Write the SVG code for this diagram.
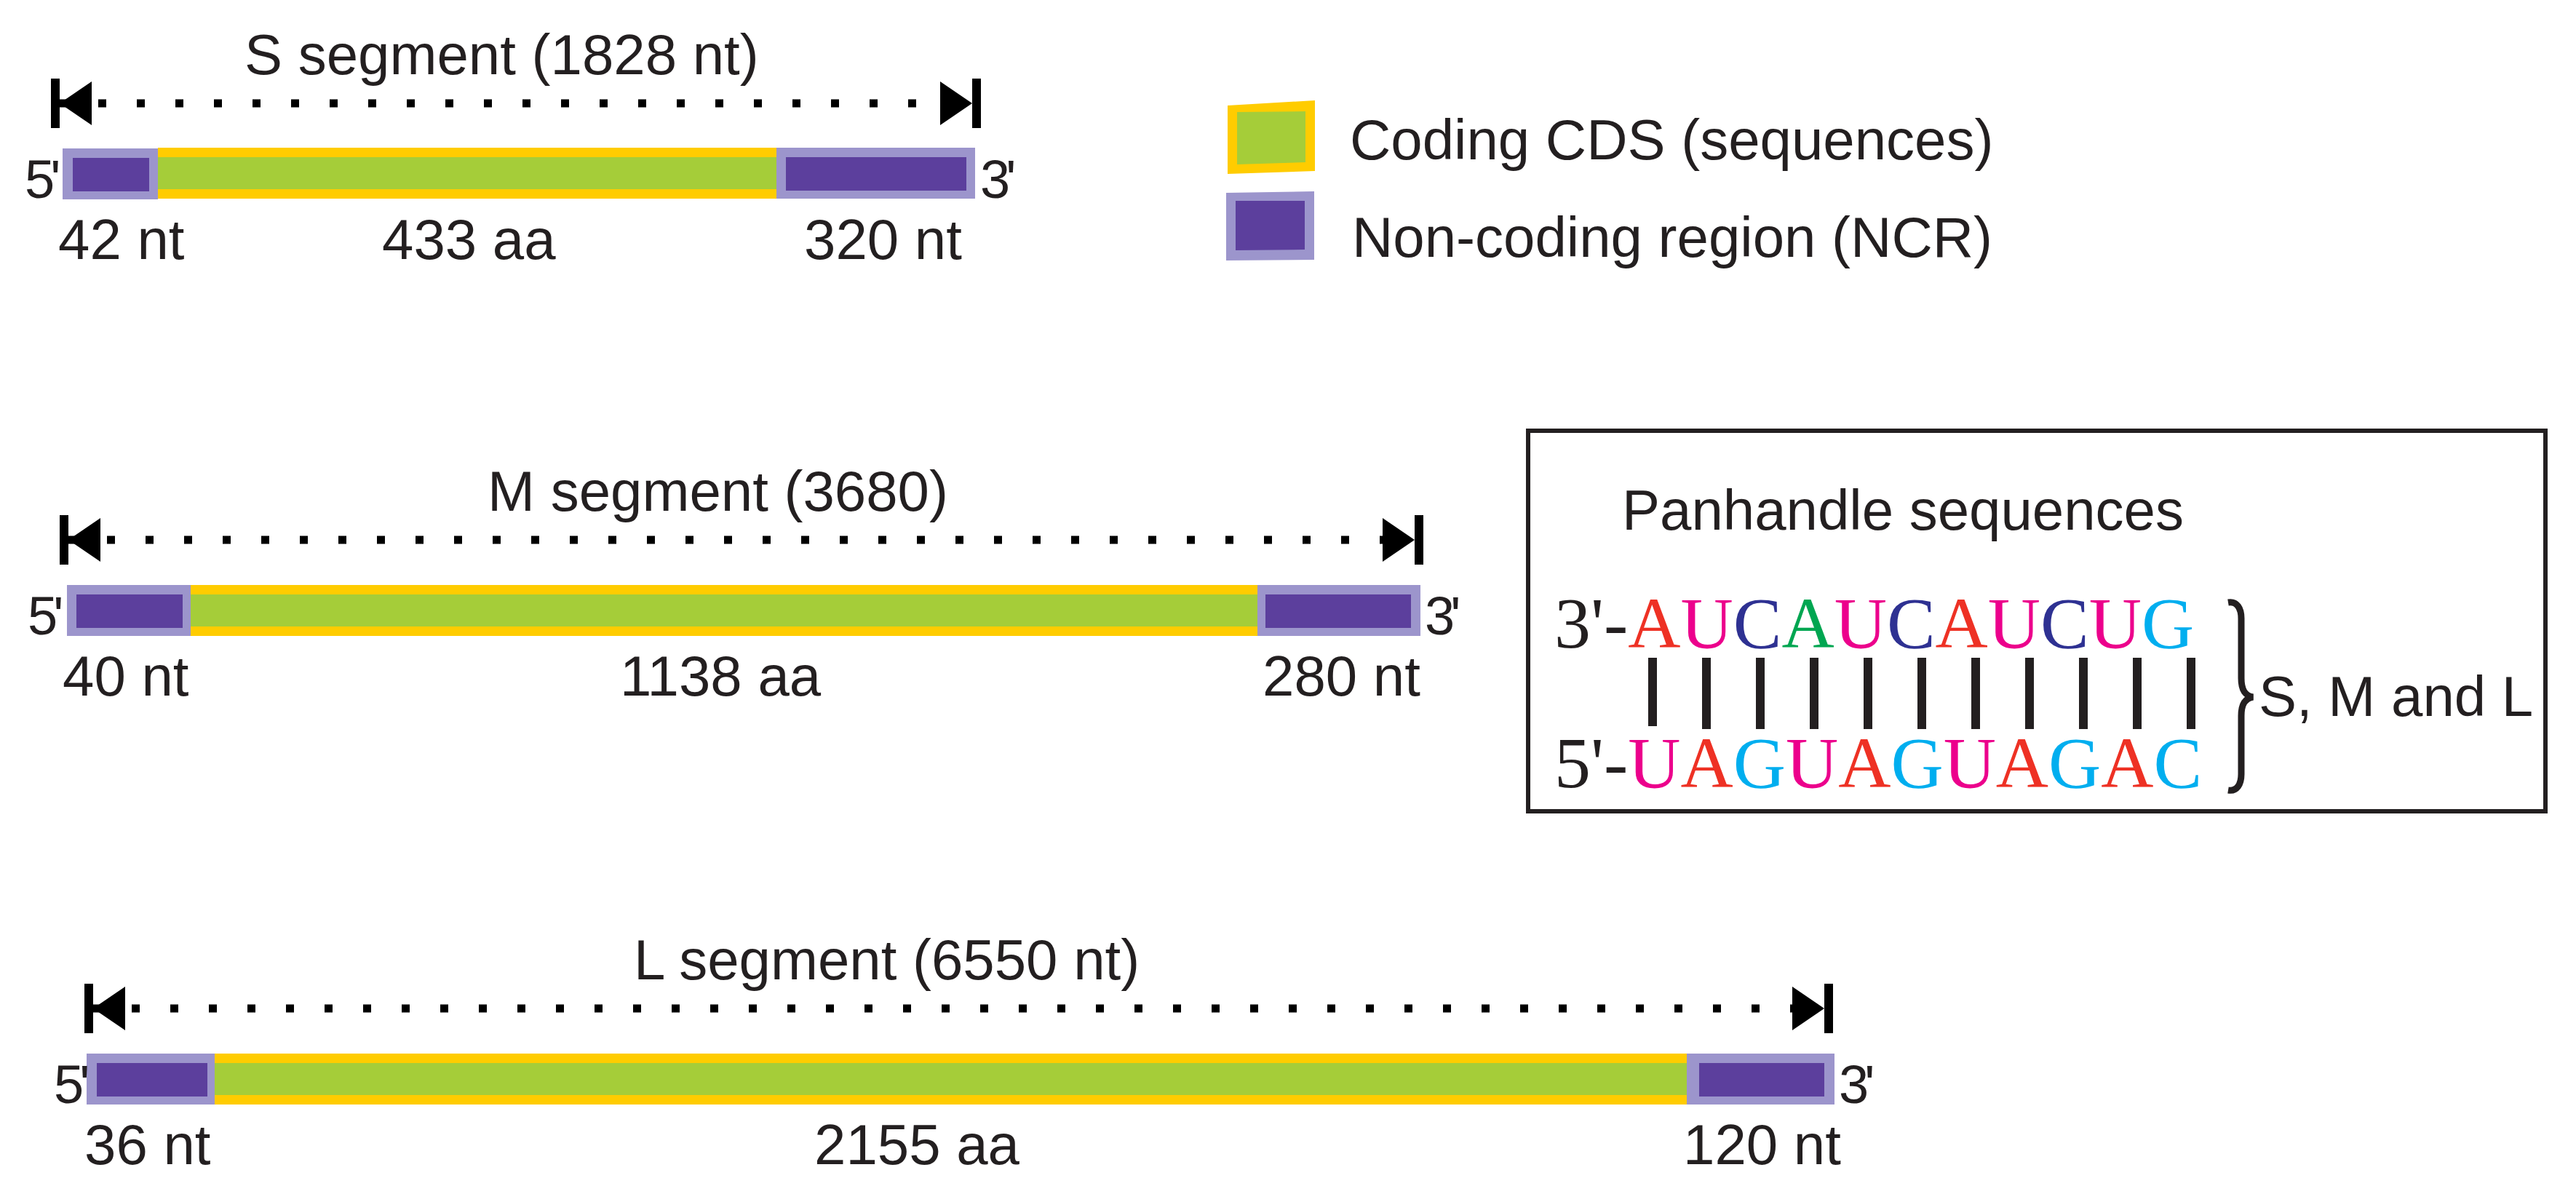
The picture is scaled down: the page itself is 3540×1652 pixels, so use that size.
<svg xmlns="http://www.w3.org/2000/svg" width="3540" height="1652" viewBox="0 0 3540 1652">
<style>
.t{font-family:"Liberation Sans",Arial,sans-serif;font-size:78px;fill:#231f20}
.p{font-family:"Liberation Sans",Arial,sans-serif;font-size:74px;fill:#231f20;letter-spacing:-6px}
.sq{font-family:"Liberation Serif","Times New Roman",serif;font-size:100px;fill:#231f20}
.dim{stroke:#000;stroke-width:11;stroke-dasharray:11 42;fill:none;marker-start:url(#endA);marker-end:url(#endA)}
.yel{fill:#ffcc00}.grn{fill:#a5cd39}.ncr{fill:#9c95cc}.ncri{fill:#5c3f9d}
.pair{fill:#231f20}
.r{fill:#ee3124}.m{fill:#ec008c}.b{fill:#2e3192}.g{fill:#00a651}.c{fill:#00aeef}
</style>
<defs>
<marker id="endA" markerUnits="userSpaceOnUse" markerWidth="80" markerHeight="80" viewBox="-50 -40 80 80" refX="0" refY="0" orient="auto-start-reverse" overflow="visible">
<path d="M0,0 L-44,-30 L-44,30 Z" fill="#000"/>
<rect x="0" y="-34" width="12" height="68" fill="#000"/>
</marker>
</defs>

<g id="connectors">
<path class="dim" d="M82,142 H1336"/>
<path class="dim" d="M94,742 H1944"/>
<path class="dim" d="M128,1386 H2507"/>
</g>

<g id="s-segment">
<text class="t" x="336" y="102">S segment (1828 nt)</text>
<rect class="ncr" x="86" y="204" width="131" height="70"/>
<rect class="ncri" x="100" y="217" width="105" height="46"/>
<rect class="yel" x="217" y="203" width="850" height="70"/>
<rect class="grn" x="217" y="216" width="850" height="44"/>
<rect class="ncr" x="1067" y="203" width="273" height="70"/>
<rect class="ncri" x="1080" y="216" width="248" height="46"/>
<text class="p" x="34" y="272">5'</text>
<text class="p" x="1347" y="272">3'</text>
<text class="t" x="80" y="356">42 nt</text>
<text class="t" x="525" y="356">433 aa</text>
<text class="t" x="1105" y="356">320 nt</text>
</g>

<g id="m-segment">
<text class="t" x="670" y="702">M segment (3680)</text>
<rect class="ncr" x="92" y="804" width="170" height="70"/>
<rect class="ncri" x="105" y="817" width="146" height="46"/>
<rect class="yel" x="262" y="804" width="1466" height="70"/>
<rect class="grn" x="262" y="817" width="1466" height="44"/>
<rect class="ncr" x="1728" y="804" width="224" height="70"/>
<rect class="ncri" x="1739" y="817" width="200" height="46"/>
<text class="p" x="38" y="872">5'</text>
<text class="p" x="1958" y="872">3'</text>
<text class="t" x="86" y="956">40 nt</text>
<text class="t" x="852" y="956">1138 aa</text>
<text class="t" x="1735" y="956">280 nt</text>
</g>

<g id="l-segment">
<text class="t" x="871" y="1346">L segment (6550 nt)</text>
<rect class="ncr" x="119" y="1448" width="176" height="70"/>
<rect class="ncri" x="133" y="1461" width="152" height="46"/>
<rect class="yel" x="295" y="1448" width="2023" height="70"/>
<rect class="grn" x="295" y="1461" width="2023" height="44"/>
<rect class="ncr" x="2318" y="1448" width="203" height="70"/>
<rect class="ncri" x="2335" y="1461" width="172" height="46"/>
<text class="p" x="74" y="1516">5'</text>
<text class="p" x="2527" y="1516">3'</text>
<text class="t" x="116" y="1600">36 nt</text>
<text class="t" x="1119" y="1600">2155 aa</text>
<text class="t" x="2313" y="1600">120 nt</text>
</g>

<g id="legend">
<g id="legend-cds">
<path class="yel" d="M1687,145 L1807,138 L1807,235 L1687,239 Z"/>
<path class="grn" d="M1700,154 L1794,153 L1794,223 L1700,226 Z"/>
<text class="t" x="1855" y="219">Coding CDS (sequences)</text>
</g>
<g id="legend-ncr">
<path class="ncr" d="M1685,265 L1806,263 L1806,357 L1685,358 Z"/>
<path class="ncri" d="M1698,276 L1793,276 L1793,343 L1698,344 Z"/>
<text class="t" x="1858" y="353">Non-coding region (NCR)</text>
</g>
</g>

<g id="panhandle">
<rect x="2100" y="592" width="1398" height="523" fill="#fff" stroke="#231f20" stroke-width="6"/>
<text class="t" x="2229" y="728">Panhandle sequences</text>
<text class="sq" x="2136" y="890">3'-<tspan class="r">A</tspan><tspan class="m">U</tspan><tspan class="b">C</tspan><tspan class="g">A</tspan><tspan class="m">U</tspan><tspan class="b">C</tspan><tspan class="r">A</tspan><tspan class="m">U</tspan><tspan class="b">C</tspan><tspan class="m">U</tspan><tspan class="c">G</tspan></text>
<g id="pairs">
<rect class="pair" x="2265" y="904" width="12" height="94"/>
<rect class="pair" x="2339" y="904" width="12" height="98"/>
<rect class="pair" x="2413" y="904" width="12" height="98"/>
<rect class="pair" x="2487" y="904" width="12" height="98"/>
<rect class="pair" x="2561" y="904" width="12" height="98"/>
<rect class="pair" x="2635" y="904" width="12" height="98"/>
<rect class="pair" x="2709" y="904" width="12" height="98"/>
<rect class="pair" x="2783" y="904" width="12" height="98"/>
<rect class="pair" x="2857" y="904" width="12" height="98"/>
<rect class="pair" x="2931" y="904" width="12" height="98"/>
<rect class="pair" x="3005" y="904" width="12" height="98"/>
</g>
<text class="sq" x="2136" y="1082">5'-<tspan class="m">U</tspan><tspan class="r">A</tspan><tspan class="c">G</tspan><tspan class="m">U</tspan><tspan class="r">A</tspan><tspan class="c">G</tspan><tspan class="m">U</tspan><tspan class="r">A</tspan><tspan class="c">G</tspan><tspan class="r">A</tspan><tspan class="c">C</tspan></text>
<path d="M3062,828 C3074,826 3080,836 3080,850 L3080,932 C3080,948 3085,956 3096,958 C3085,960 3080,968 3080,984 L3080,1064 C3080,1078 3074,1088 3062,1086" fill="none" stroke="#231f20" stroke-width="9"/>
<text class="t" x="3104" y="984">S, M and L</text>
</g>
</svg>
